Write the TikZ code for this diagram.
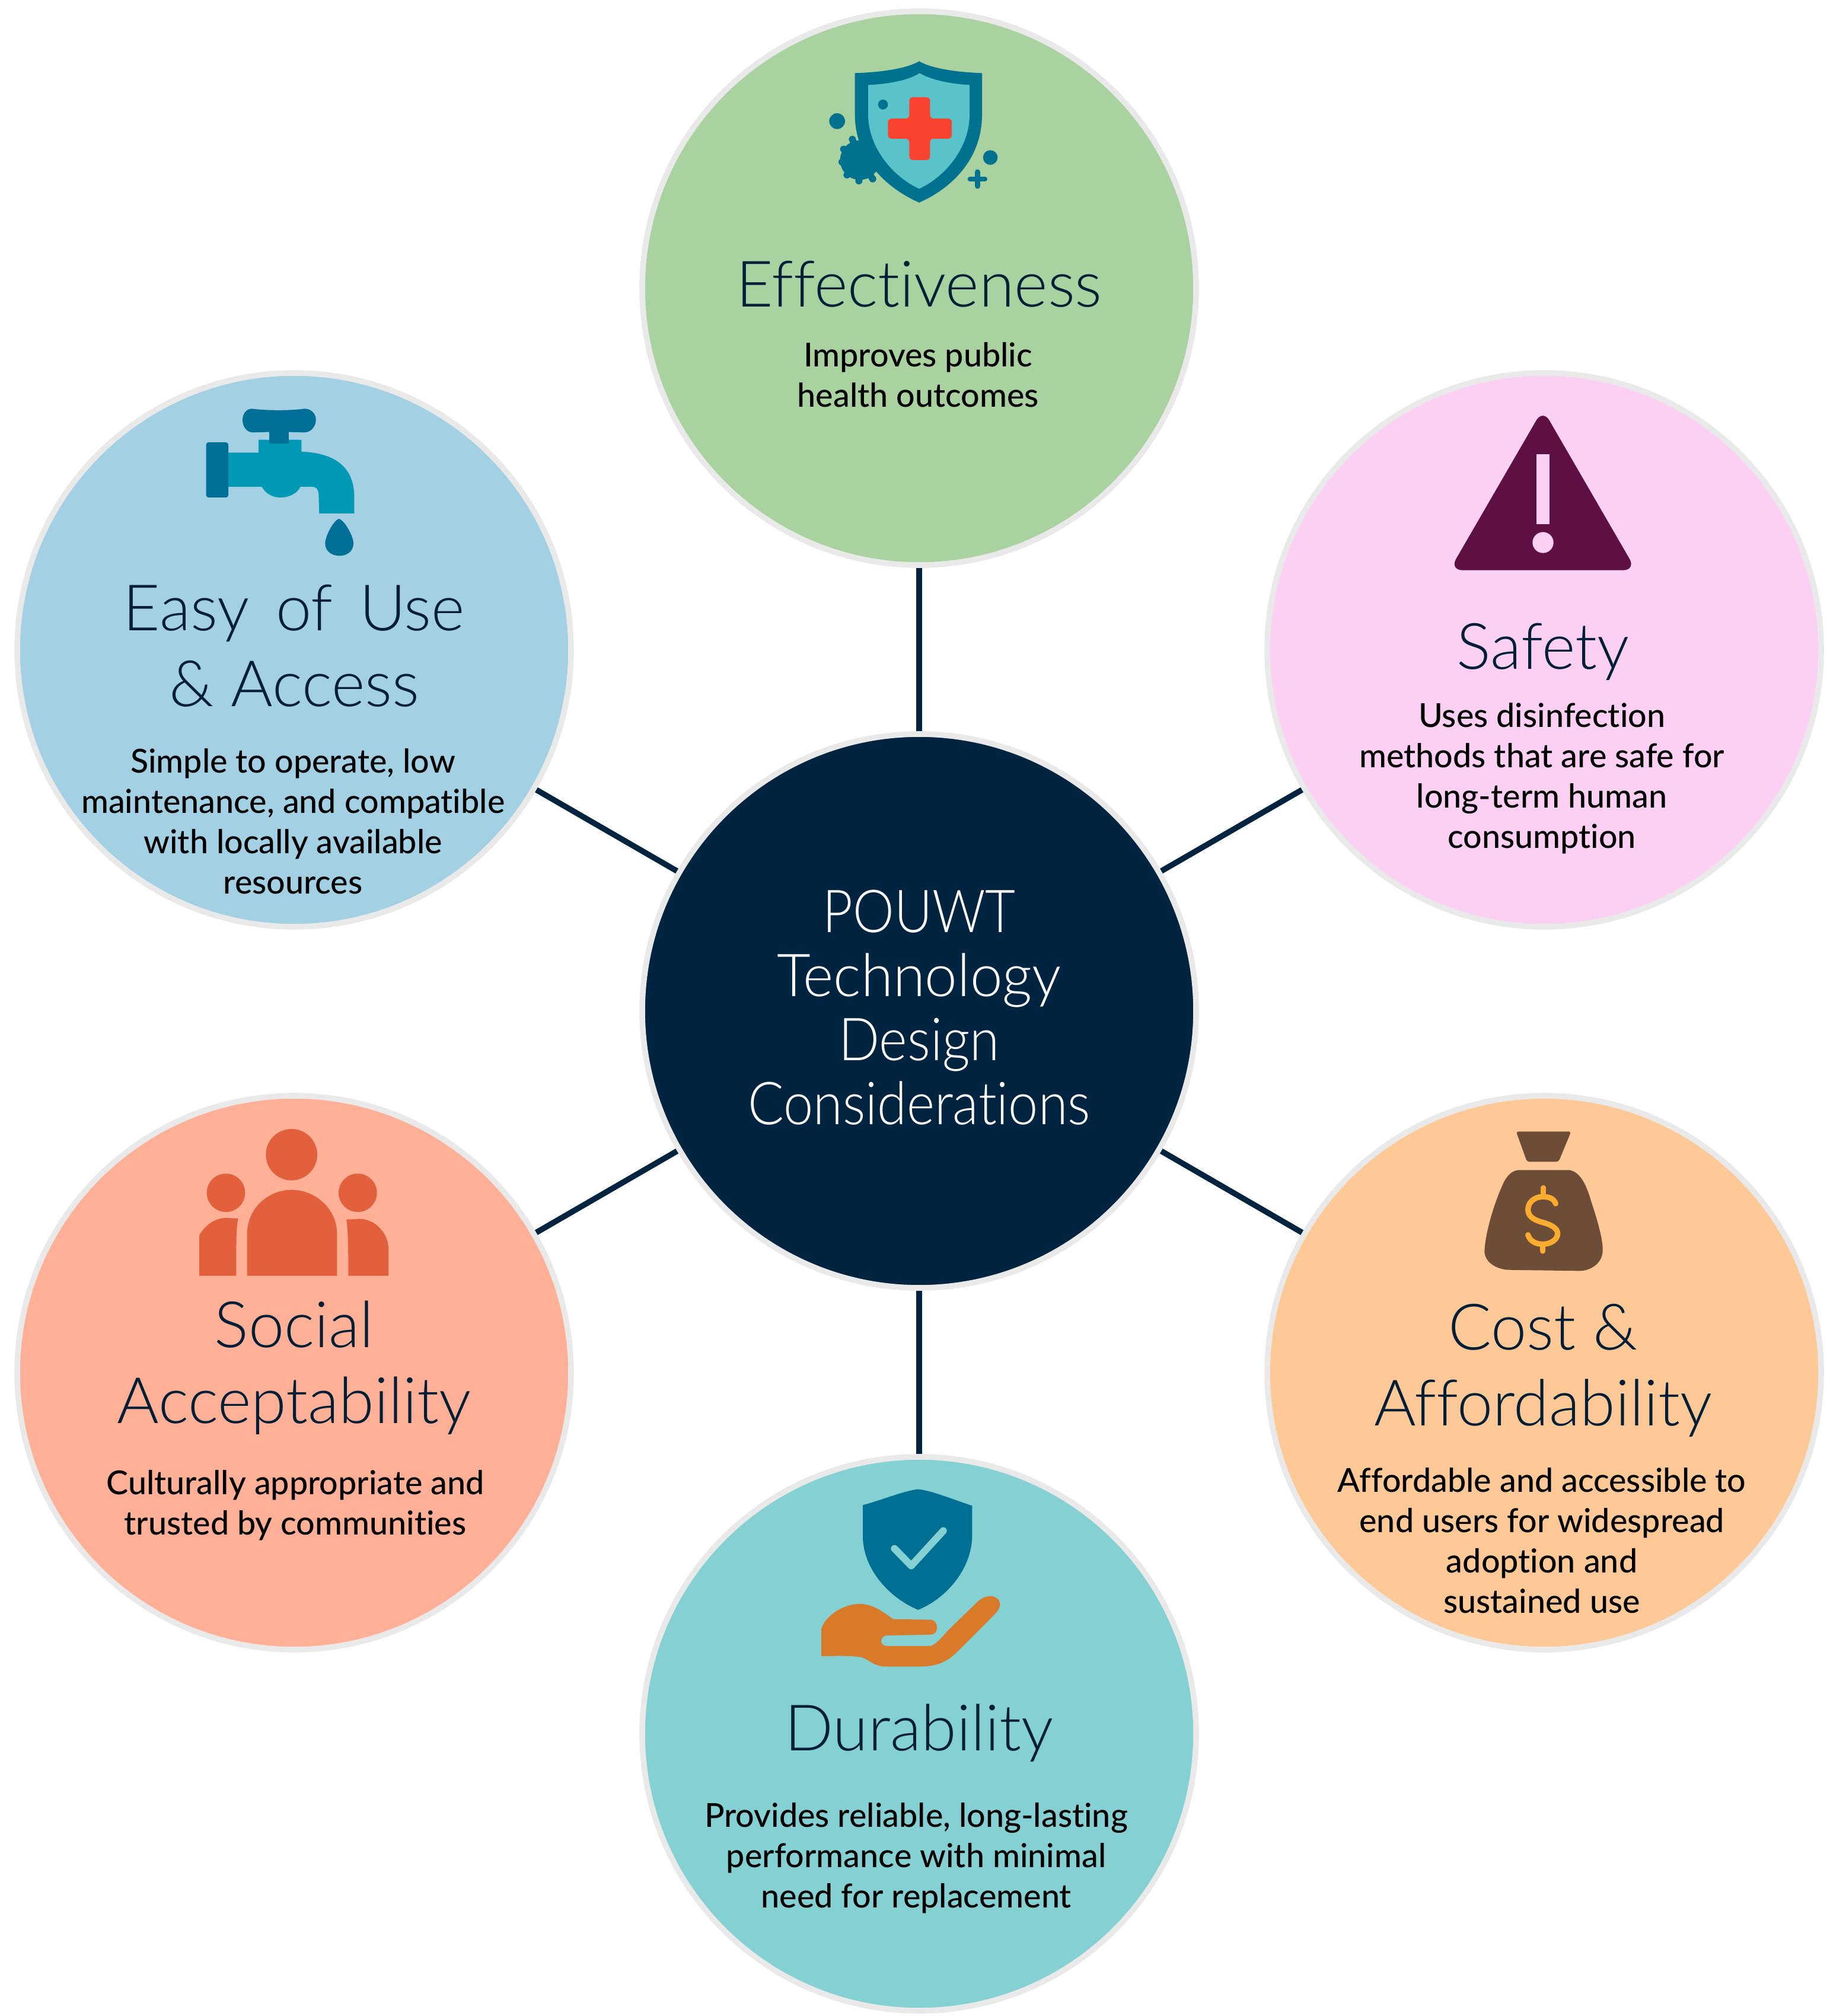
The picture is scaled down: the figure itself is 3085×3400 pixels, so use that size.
\documentclass[tikz,border=0pt]{standalone}
\usepackage{graphicx}
\usepackage{fontspec}
\setmainfont{Lato Medium}[Ligatures=NoCommon]
\newfontfamily\titlefont{Lato Light}[Ligatures=NoCommon]
\newcommand{\squeezeline}[2]{\scalebox{#1}[1]{#2}}
\definecolor{navy}{HTML}{00233F}
\definecolor{ringc}{HTML}{E9E9E9}
\definecolor{cgreen}{HTML}{AAD1A0}
\definecolor{cpink}{HTML}{FCD0F2}
\definecolor{cpeach}{HTML}{FEC897}
\definecolor{cteal}{HTML}{85D0D2}
\definecolor{csalmon}{HTML}{FFB096}
\definecolor{cblue}{HTML}{A3D0E3}
\definecolor{itealdark}{HTML}{00728F}
\definecolor{itealmid}{HTML}{5AC2C9}
\definecolor{ired}{HTML}{FB4430}
\definecolor{ifaudark}{HTML}{006F98}
\definecolor{ifaumid}{HTML}{0099B5}
\definecolor{iplum}{HTML}{5E1045}
\definecolor{ipeople}{HTML}{E2613C}
\definecolor{ibag}{HTML}{6E4D38}
\definecolor{igold}{HTML}{F9AC2F}
\definecolor{ishield}{HTML}{006F94}
\definecolor{ihand}{HTML}{D87A2A}
\tikzset{
  x=0.25pt,y=-0.25pt,
  bubble/.style={circle,draw=ringc,line width=2.4pt,minimum size=233.5pt,inner sep=0pt},
  hub/.style={bubble,fill=navy},
  spoke/.style={draw=navy,line width=2.4pt},
  titletext/.style={font=\titlefont\fontsize{27}{32}\selectfont,align=center,text=navy!85!black,inner sep=0pt},
  hubtext/.style={font=\titlefont\fontsize{25}{27}\selectfont,align=center,text=white,inner sep=0pt},
  desctext/.style={font=\fontsize{13.9}{17}\selectfont,align=center,text=black,inner sep=0pt},
  zoomframe/.style={scale=1/3}
}
\begin{document}
\begin{tikzpicture}
\useasboundingbox (0,0) rectangle (3085,3400);
\fill[white] (0,0) rectangle (3085,3400);

\node[hub] (hubc) at (1550,1705) {};
\node[bubble,fill=cgreen] (eff) at (1550,486) {};
\node[bubble,fill=cpink] (saf) at (2604,1096) {};
\node[bubble,fill=cpeach] (cost) at (2604,2315) {};
\node[bubble,fill=cteal] (dur) at (1550,2924) {};
\node[bubble,fill=csalmon] (soc) at (496,2315) {};
\node[bubble,fill=cblue] (easy) at (496,1096) {};

\foreach \n in {eff,saf,cost,dur,soc,easy} \draw[spoke] (hubc) -- (\n);

% text
\node[hubtext] (hubt) at (1550,1699) {\squeezeline{0.88}{POUWT}\\\squeezeline{0.98}{Technology}\\\squeezeline{0.91}{Design}\\\squeezeline{0.90}{Considerations}};
\node[titletext] (efft) at (1550,479) {Effectiveness};
\node[desctext] (effd) at (1548,632) {Improves public\\health outcomes};
\node[titletext] (saft) at (2602,1099) {Safety};
\node[desctext] (safd) at (2600,1313) {Uses disinfection\\methods that are safe for\\long-term human\\consumption};
\node[titletext] (costt) at (2602,2311) {Cost \&\\Affordability};
\node[desctext] (costd) at (2600,2598) {Affordable and accessible to\\end users for widespread\\adoption and\\sustained use};
\node[titletext] (durt) at (1550,2923) {Durability};
\node[desctext] (durd) at (1545,3134) {Provides reliable, long-lasting\\performance with minimal\\need for replacement};
\node[titletext] (soct) at (496,2307) {Social\\Acceptability};
\node[desctext] (socd) at (498,2539) {Culturally appropriate and\\trusted by communities};
\node[titletext] (easyt) at (496,1089) {Easy\hspace{3.8pt} of\hspace{3.8pt} Use\\\& Access};
\node[desctext] (easyd) at (494,1385) {Simple to operate, low\\maintenance, and compatible\\with locally available\\resources};

% shield icon
\begin{scope}[shift={(1340,60)},zoomframe]
\fill[itealdark] (305,190) .. controls (450,185) and (570,165) .. (630,130) .. controls (690,165) and (810,185) .. (948,190) -- (948,400) .. controls (948,620) and (800,770) .. (630,845) .. controls (460,770) and (305,620) .. (305,400) -- cycle;
\fill[itealdark] (330,630) circle[radius=100];
\foreach \a/\b in {292/525,248/575,240/640,265/705,325/735,395/725} \fill[itealdark] (\a,\b) circle[radius=18];
\foreach \a/\b in {292/525,248/575,240/640,265/705,325/735,395/725} \draw[itealdark,line width=2.8pt] (330,630) -- (\a,\b);
\fill[itealmid] (372,250) .. controls (480,245) and (580,225) .. (632,190) .. controls (690,225) and (790,245) .. (885,250) -- (885,400) .. controls (885,560) and (770,710) .. (630,775) .. controls (490,710) and (372,560) .. (372,400) -- cycle;
\fill[itealdark] (215,433) circle[radius=40] (990,617) circle[radius=37] (447,349) circle[radius=25];
\draw[itealdark,line width=2.2pt,line cap=round] (925,690) -- (925,762) (888,726) -- (962,726);
\fill[ired,rounded corners=1.5pt] (580,312) -- (685,312) -- (685,420) -- (795,420) -- (795,522) -- (685,522) -- (685,630) -- (580,630) -- (580,522) -- (472,522) -- (472,420) -- (580,420) -- cycle;
\end{scope}

% faucet icon
\begin{scope}[shift={(310,660)},zoomframe]
\fill[ifaumid] (225,310) -- (378,310) -- (378,245) -- (595,245) -- (595,305) .. controls (700,310) and (860,340) .. (862,530) -- (862,618) -- (685,618) -- (682,520) .. controls (680,495) and (670,483) .. (650,483) -- (590,483) .. controls (570,520) and (530,537) .. (490,537) .. controls (450,537) and (415,520) .. (395,483) -- (225,483) -- cycle;
\fill[ifaudark] (432,200) rectangle (532,265);
\fill[ifaudark] (345,88) .. controls (420,98) and (540,98) .. (610,88) .. controls (650,88) and (670,120) .. (668,145) .. controls (668,180) and (640,208) .. (610,208) .. controls (540,205) and (420,205) .. (350,208) .. controls (320,208) and (297,180) .. (297,145) .. controls (297,115) and (315,88) .. (345,88) -- cycle;
\fill[ifaudark,rounded corners=1pt] (113,258) rectangle (225,537);
\fill[ifaudark] (785,645) .. controls (760,650) and (715,730) .. (715,770) .. controls (715,810) and (750,832) .. (787,832) .. controls (825,832) and (858,810) .. (858,770) .. controls (858,730) and (810,650) .. (785,645) -- cycle;
\end{scope}

% warning icon
\begin{scope}[shift={(2420,680)},zoomframe]
\fill[iplum,rounded corners=5.5pt] (545,30) -- (1017,845) -- (73,845) -- cycle;
\fill[cpink] (513,257) rectangle (578,612);
\fill[cpink] (546,705) circle[radius=53];
\end{scope}

% people icon
\begin{scope}[shift={(310,1890)},zoomframe]
\fill[ipeople] (545,172) circle[radius=130] (213,365) circle[radius=97] (880,365) circle[radius=97];
\fill[ipeople] (320,785) -- (320,575) .. controls (320,440) and (430,350) .. (545,350) .. controls (660,350) and (775,440) .. (775,575) -- (775,785) -- cycle;
\fill[ipeople] (78,785) -- (78,580) .. controls (110,525) and (160,492) .. (215,492) -- (275,495) .. controls (265,540) and (265,600) .. (265,785) -- cycle;
\fill[ipeople] (1035,785) -- (1035,640) .. controls (1030,560) and (960,497) .. (890,497) -- (822,500) .. controls (832,560) and (832,650) .. (832,785) -- cycle;
\end{scope}

% money bag icon
\begin{scope}[shift={(2460,1890)},zoomframe]
\fill[ibag,rounded corners=1pt] (290,55) -- (568,55) -- (505,208) -- (345,208) -- cycle;
\fill[ibag] (300,250) -- (560,250) .. controls (620,260) and (650,340) .. (670,410) .. controls (700,500) and (730,600) .. (728,660) .. controls (725,720) and (670,760) .. (610,760) -- (250,755) .. controls (180,750) and (130,710) .. (130,660) .. controls (135,560) and (180,420) .. (215,340) .. controls (235,290) and (260,255) .. (300,250) -- cycle;
\draw[igold,line width=2.3pt,line cap=round] (490,420) .. controls (480,390) and (450,385) .. (425,385) .. controls (380,385) and (350,415) .. (350,450) .. controls (350,490) and (390,505) .. (425,515) .. controls (465,525) and (500,545) .. (500,570) .. controls (500,605) and (460,625) .. (425,625) .. controls (390,625) and (360,610) .. (350,578);
\draw[igold,line width=2.3pt,line cap=round] (428,340) -- (428,385) (425,625) -- (425,660);
\end{scope}

% shield and hand icon
\begin{scope}[shift={(1360,2500)},zoomframe]
\fill[ishield] (285,115) .. controls (380,90) and (500,40) .. (565,35) .. controls (630,40) and (750,90) .. (838,118) -- (838,280) .. controls (830,450) and (700,590) .. (565,645) .. controls (430,590) and (290,450) .. (285,280) -- cycle;
\draw[cteal,line width=3pt,line cap=round,line join=round] (445,335) -- (530,422) -- (692,245);
\fill[ihand] (75,880) -- (75,740) .. controls (100,670) and (190,615) .. (270,615) .. controls (340,615) and (390,660) .. (440,692) -- (630,695) .. controls (670,700) and (670,770) .. (630,770) -- (400,775) .. controls (370,785) and (370,825) .. (405,828) -- (625,828) .. controls (650,825) and (680,790) .. (720,745) -- (870,600) .. controls (910,565) and (960,570) .. (975,600) .. controls (990,630) and (960,660) .. (940,680) -- (760,860) .. controls (700,920) and (640,930) .. (580,932) -- (400,932) .. controls (340,930) and (320,900) .. (280,885) .. controls (220,875) and (130,878) .. (75,880) -- cycle;
\end{scope}
\end{tikzpicture}
\end{document}
